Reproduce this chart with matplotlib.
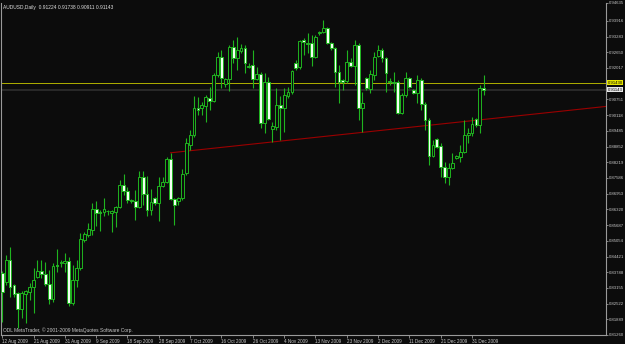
import numpy as np
import matplotlib as mpl
import matplotlib.pyplot as plt
from matplotlib.transforms import blended_transform_factory

mpl.use('Agg')

# AUDUSD daily bars, 12 Aug 2009 .. early Jan 2010 (broker with Sunday bars)
header = 'AUDUSD,Daily  0.91224 0.91738 0.90911 0.91143'
copyright_text = 'ODL MetaTrader, \u00a9 2001-2009 MetaQuotes Software Corp.'

opens = [0.8375, 0.8339, 0.8428, 0.8327, 0.8295, 0.8230, 0.8291, 0.8299, 0.8319, 0.8359,
         0.8383, 0.8371, 0.8331, 0.8271, 0.8408, 0.8416, 0.8416, 0.8424, 0.8255, 0.8347,
         0.8396, 0.8508, 0.8529, 0.8549, 0.8633, 0.8621, 0.8621, 0.8625, 0.8617, 0.8621,
         0.8641, 0.8730, 0.8706, 0.8670, 0.8666, 0.8641, 0.8762, 0.8694, 0.8629, 0.8678,
         0.8658, 0.8726, 0.8742, 0.8835, 0.8674, 0.8666, 0.8678, 0.8778, 0.8891, 0.8932,
         0.9040, 0.9040, 0.9048, 0.9081, 0.9069, 0.9173, 0.9246, 0.9137, 0.9157, 0.9286,
         0.9242, 0.9270, 0.9282, 0.9210, 0.9214, 0.9157, 0.9177, 0.8980, 0.9145, 0.8956,
         0.8964, 0.9052, 0.9040, 0.9089, 0.9105, 0.9222, 0.9206, 0.9314, 0.9302, 0.9302,
         0.9246, 0.9341, 0.9347, 0.9363, 0.9302, 0.9282, 0.9185, 0.9153, 0.9149, 0.9226,
         0.9210, 0.9294, 0.9040, 0.9161, 0.9117, 0.9173, 0.9250, 0.9274, 0.9242, 0.9149,
         0.9145, 0.9145, 0.9020, 0.9093, 0.9161, 0.9113, 0.9101, 0.9153, 0.9056, 0.8992,
         0.8847, 0.8915, 0.8887, 0.8803, 0.8762, 0.8799, 0.8839, 0.8843, 0.8863, 0.8932,
         0.8940, 0.8996, 0.8972, 0.91224]
highs = [0.8383, 0.8448, 0.8480, 0.8331, 0.8299, 0.8303, 0.8307, 0.8335, 0.8396, 0.8428,
         0.8428, 0.8420, 0.8388, 0.8416, 0.8472, 0.8428, 0.8456, 0.8440, 0.8408, 0.8428,
         0.8537, 0.8541, 0.8577, 0.8658, 0.8666, 0.8629, 0.8678, 0.8629, 0.8629, 0.8645,
         0.8750, 0.8774, 0.8722, 0.8674, 0.8710, 0.8786, 0.8786, 0.8766, 0.8714, 0.8682,
         0.8762, 0.8762, 0.8843, 0.8859, 0.8678, 0.8682, 0.8795, 0.8920, 0.8952, 0.9089,
         0.9085, 0.9065, 0.9093, 0.9125, 0.9181, 0.9266, 0.9274, 0.9161, 0.9294, 0.9314,
         0.9327, 0.9298, 0.9294, 0.9222, 0.9274, 0.9206, 0.9185, 0.9181, 0.9165, 0.8984,
         0.9121, 0.9089, 0.9121, 0.9125, 0.9193, 0.9234, 0.9314, 0.9322, 0.9343, 0.9335,
         0.9335, 0.9351, 0.9395, 0.9367, 0.9306, 0.9286, 0.9214, 0.9157, 0.9274, 0.9242,
         0.9314, 0.9302, 0.9105, 0.9165, 0.9193, 0.9266, 0.9294, 0.9282, 0.9246, 0.9161,
         0.9185, 0.9153, 0.9101, 0.9185, 0.9165, 0.9117, 0.9173, 0.9161, 0.9065, 0.9000,
         0.8911, 0.8920, 0.8899, 0.8823, 0.8819, 0.8859, 0.8851, 0.8891, 0.8992, 0.8960,
         0.9004, 0.9000, 0.9133, 0.91738]
lows = [0.8178, 0.8327, 0.8279, 0.8279, 0.8154, 0.8194, 0.8174, 0.8267, 0.8214, 0.8355,
        0.8355, 0.8323, 0.8250, 0.8259, 0.8379, 0.8400, 0.8379, 0.8242, 0.8246, 0.8319,
        0.8388, 0.8500, 0.8520, 0.8529, 0.8565, 0.8545, 0.8605, 0.8609, 0.8541, 0.8561,
        0.8637, 0.8690, 0.8658, 0.8658, 0.8589, 0.8637, 0.8649, 0.8605, 0.8609, 0.8649,
        0.8585, 0.8722, 0.8738, 0.8670, 0.8569, 0.8649, 0.8670, 0.8770, 0.8871, 0.8924,
        0.9012, 0.9012, 0.8984, 0.9032, 0.9065, 0.9165, 0.9121, 0.9125, 0.9109, 0.9222,
        0.9193, 0.9262, 0.9181, 0.9202, 0.9121, 0.9153, 0.8960, 0.8940, 0.8992, 0.8903,
        0.8952, 0.8911, 0.8944, 0.9081, 0.9097, 0.9193, 0.9198, 0.9254, 0.9262, 0.9210,
        0.9242, 0.9335, 0.9343, 0.9298, 0.9274, 0.9125, 0.9060, 0.9113, 0.9141, 0.9206,
        0.9133, 0.8992, 0.8944, 0.9113, 0.9101, 0.9153, 0.9246, 0.9226, 0.9105, 0.9133,
        0.9105, 0.9016, 0.9016, 0.9085, 0.9121, 0.9097, 0.9060, 0.9032, 0.8952, 0.8811,
        0.8843, 0.8879, 0.8762, 0.8738, 0.8730, 0.8795, 0.8835, 0.8823, 0.8859, 0.8899,
        0.8928, 0.8964, 0.8940, 0.90911]
closes = [0.8299, 0.8428, 0.8319, 0.8291, 0.8230, 0.8295, 0.8303, 0.8319, 0.8347, 0.8383,
          0.8371, 0.8331, 0.8271, 0.8404, 0.8404, 0.8420, 0.8424, 0.8255, 0.8347, 0.8396,
          0.8512, 0.8533, 0.8553, 0.8633, 0.8617, 0.8619, 0.8633, 0.8624, 0.8625, 0.8641,
          0.8730, 0.8706, 0.8670, 0.8666, 0.8641, 0.8762, 0.8694, 0.8629, 0.8662, 0.8658,
          0.8726, 0.8742, 0.8835, 0.8674, 0.8649, 0.8678, 0.8774, 0.8899, 0.8932, 0.9040,
          0.9032, 0.9052, 0.9085, 0.9069, 0.9173, 0.9246, 0.9161, 0.9157, 0.9286, 0.9242,
          0.9274, 0.9282, 0.9222, 0.9206, 0.9157, 0.9177, 0.8980, 0.9145, 0.8996, 0.8968,
          0.9052, 0.9040, 0.9093, 0.9105, 0.9190, 0.9202, 0.9310, 0.9306, 0.9300, 0.9246,
          0.9327, 0.9347, 0.9363, 0.9302, 0.9282, 0.9185, 0.9145, 0.9145, 0.9226, 0.9210,
          0.9294, 0.9040, 0.9060, 0.9121, 0.9177, 0.9246, 0.9274, 0.9242, 0.9181, 0.9145,
          0.9143, 0.9020, 0.9093, 0.9161, 0.9125, 0.9101, 0.9153, 0.9056, 0.8992, 0.8847,
          0.8891, 0.8883, 0.8803, 0.8762, 0.8799, 0.8819, 0.8847, 0.8863, 0.8932, 0.8940,
          0.8976, 0.8972, 0.9121, 0.91143]

date_labels = ['12 Aug 2009', '21 Aug 2009', '31 Aug 2009', '9 Sep 2009', '18 Sep 2009',
               '28 Sep 2009', '7 Oct 2009', '16 Oct 2009', '26 Oct 2009', '4 Nov 2009',
               '13 Nov 2009', '23 Nov 2009', '2 Dec 2009', '11 Dec 2009', '21 Dec 2009',
               '31 Dec 2009']
bars_per_label = 8

price_ticks = [0.81260, 0.81889, 0.82522, 0.83155, 0.83788, 0.84421, 0.85054, 0.85687,
               0.86320, 0.86953, 0.87586, 0.88219, 0.88852, 0.89485, 0.90118, 0.90751,
               0.92017, 0.92650, 0.93283, 0.93916, 0.94635]

level_price = 0.91430           # yellow horizontal line
bid_price = closes[-1]          # grey bid line
trend_bars = [43, 118]          # red trend line anchors
trend_prices = [0.8860, 0.8986]

BG = '#0c0c0c'
GREEN = '#1fb41f'
SCALE_TXT = '#c8c8c8'


def main():
    plt.rcParams['font.family'] = ['Liberation Sans', 'DejaVu Sans']
    fig = plt.figure(figsize=(6.25, 3.44), dpi=100, facecolor=BG)
    ax = fig.add_axes([1 / 625, 9 / 344, 605 / 625, 332 / 344], facecolor=BG)

    o = np.array(opens)
    h = np.array(highs)
    lo = np.array(lows)
    c = np.array(closes)
    idx = np.arange(len(o))

    # wicks
    ax.vlines(idx, lo, h, color=GREEN, linewidth=0.8, zorder=3)

    # bodies: bull hollow (black), bear white
    bull = c >= o
    bottom = np.minimum(o, c)
    height = np.maximum(np.abs(c - o), 0.00012)
    ax.bar(idx[bull], height[bull], bottom=bottom[bull], width=0.72,
           facecolor=BG, edgecolor=GREEN, linewidth=0.7, zorder=4)
    ax.bar(idx[~bull], height[~bull], bottom=bottom[~bull], width=0.72,
           facecolor='#f2fff2', edgecolor=GREEN, linewidth=0.7, zorder=4)

    x_min, x_max = -0.3, 154.2
    ax.set_xlim(x_min, x_max)
    ax.set_ylim(price_ticks[0], price_ticks[-1])

    # lines
    ax.axhline(level_price, color='#b0b000', linewidth=0.7, zorder=2)
    ax.axhline(bid_price, color='#2c2c2c', linewidth=1.3, zorder=1)
    slope = (trend_prices[1] - trend_prices[0]) / (trend_bars[1] - trend_bars[0])
    ax.plot([trend_bars[0], x_max], [trend_prices[0], trend_prices[0] + slope * (x_max - trend_bars[0])],
            color='#9a0000', linewidth=0.8, zorder=2)

    # axes styling
    ax.spines['top'].set_visible(False)
    for side in ['left', 'right', 'bottom']:
        ax.spines[side].set_color('#9a9a9a')
        ax.spines[side].set_linewidth(0.8)

    ax.yaxis.tick_right()
    ax.set_yticks(price_ticks)
    ax.set_yticklabels([f'{p:.5f}' for p in price_ticks])
    ax.tick_params(axis='y', colors='#9a9a9a', labelcolor=SCALE_TXT, length=1.5,
                   width=0.6, labelsize=3.1, pad=0.6)

    ax.set_xticks(np.arange(len(date_labels)) * bars_per_label)
    ax.set_xticklabels(date_labels, ha='left')
    ax.tick_params(axis='x', colors='#9a9a9a', labelcolor=SCALE_TXT, length=2,
                   width=0.6, labelsize=3.3, pad=0.8)

    # highlighted price labels on the scale
    tr = blended_transform_factory(ax.transAxes, ax.transData)
    ax.text(1.003, level_price, f'{level_price:.5f}', transform=tr, fontsize=3.1,
            color='black', va='center', ha='left', clip_on=False, zorder=6,
            bbox=dict(boxstyle='square,pad=0.12', facecolor='#e6e600', edgecolor='none'))
    ax.text(1.003, bid_price, f'{bid_price:.5f}', transform=tr, fontsize=3.1,
            color='black', va='center', ha='left', clip_on=False, zorder=6,
            bbox=dict(boxstyle='square,pad=0.12', facecolor='#e8e8e8', edgecolor='none'))

    ax.text(0.004, 0.995, header, transform=ax.transAxes, fontsize=3.5,
            color='#e0e0e0', va='top', ha='left')
    ax.text(0.003, 0.006, copyright_text, transform=ax.transAxes, fontsize=3.5,
            color=SCALE_TXT, va='bottom', ha='left')

    fig.savefig('out.png', dpi=100, facecolor=BG)


if __name__ == '__main__':
    main()
